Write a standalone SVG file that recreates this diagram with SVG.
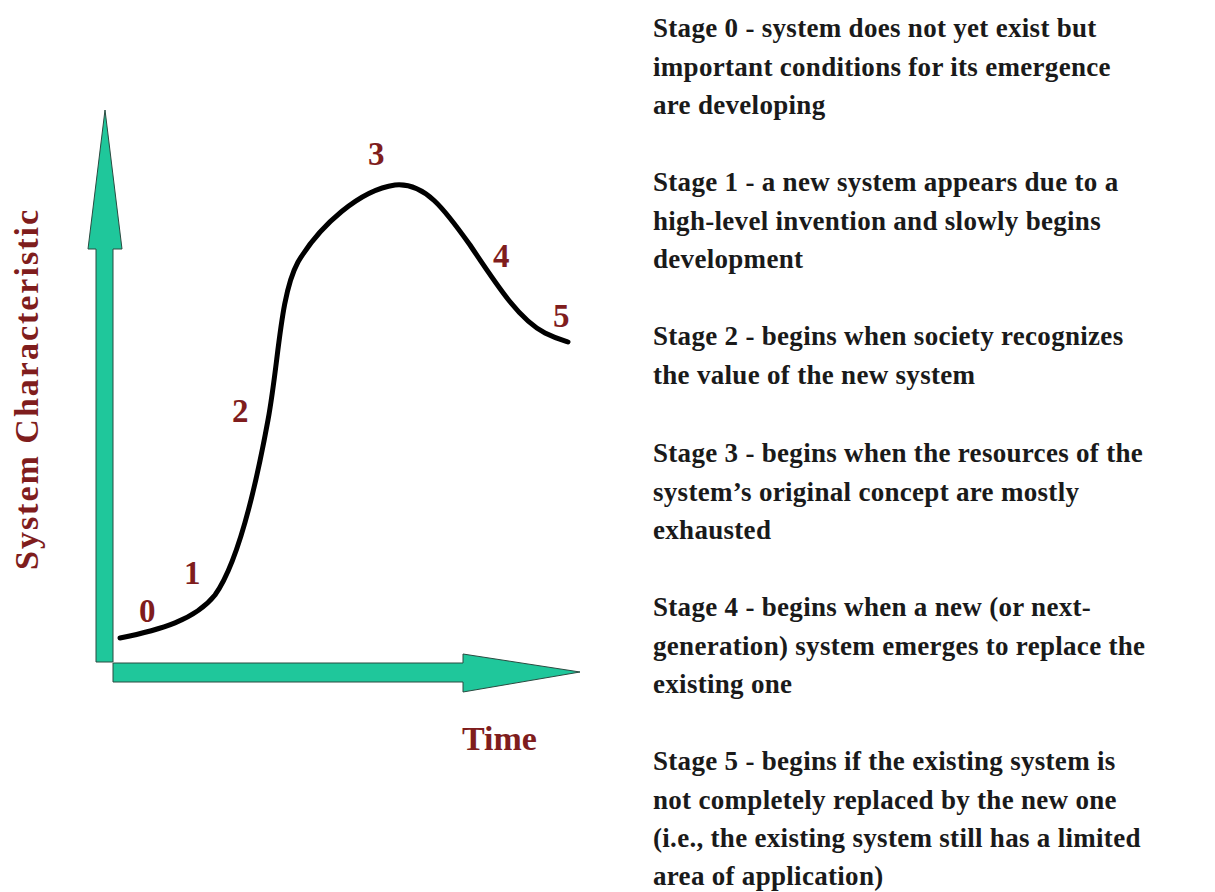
<svg xmlns="http://www.w3.org/2000/svg" width="1215" height="892" viewBox="0 0 1215 892">
<style>
.axis{fill:#1fc79b;stroke:#2a4a40;stroke-width:1}
.curve{fill:none;stroke:#000;stroke-width:5;stroke-linecap:round;stroke-linejoin:round}
.lbl{font-family:"Liberation Serif",serif;font-weight:bold;fill:#7f1d1d}
.num{font-size:33px}
.desc{font-family:"Liberation Serif",serif;font-weight:bold;font-size:27px;fill:#1a1a1a;letter-spacing:0.3px}
</style>
<rect width="1215" height="892" fill="#fff"/>
<g id="connectors">
<polygon id="y-axis" class="axis" points="96,662 96,249 88,249 105,110 122,249 113,249 113,662"/>
<polygon id="x-axis" class="axis" points="113,663 463,663 463,654 580,672 463,692 463,682 113,682"/>
<path id="curve" class="curve" d="M120,638 C160,630 195,620 215,595 C240,560 257,480 268,420 C279,360 280,295 298,262 C320,225 360,190 395,185 C425,182 445,210 470,245 C500,290 520,320 545,333 C555,338 562,340 568,342"/>
</g>
<g id="axis-labels">
<text class="lbl" font-size="34" transform="translate(38,570) rotate(-90)" textLength="360" lengthAdjust="spacing">System Characteristic</text>
<text class="lbl" font-size="34" x="462" y="750">Time</text>
</g>
<g id="stage-numbers">
<text class="lbl num" x="139" y="622">0</text>
<text class="lbl num" x="184" y="584">1</text>
<text class="lbl num" x="232" y="422">2</text>
<text class="lbl num" x="368" y="165">3</text>
<text class="lbl num" x="493" y="267">4</text>
<text class="lbl num" x="553" y="327">5</text>
</g>
<g id="stage0">
<text class="desc" x="653" y="37">Stage 0 - system does not yet exist but</text>
<text class="desc" x="653" y="75.5">important conditions for its emergence</text>
<text class="desc" x="653" y="114">are developing</text>
</g>
<g id="stage1">
<text class="desc" x="653" y="191">Stage 1 - a new system appears due to a</text>
<text class="desc" x="653" y="229.5">high-level invention and slowly begins</text>
<text class="desc" x="653" y="268">development</text>
</g>
<g id="stage2">
<text class="desc" x="653" y="345">Stage 2 - begins when society recognizes</text>
<text class="desc" x="653" y="383.5">the value of the new system</text>
</g>
<g id="stage3">
<text class="desc" x="653" y="462">Stage 3 - begins when the resources of the</text>
<text class="desc" x="653" y="500.5">system’s original concept are mostly</text>
<text class="desc" x="653" y="539">exhausted</text>
</g>
<g id="stage4">
<text class="desc" x="653" y="616">Stage 4 - begins when a new (or next-</text>
<text class="desc" x="653" y="654.5">generation) system emerges to replace the</text>
<text class="desc" x="653" y="693">existing one</text>
</g>
<g id="stage5">
<text class="desc" x="653" y="770">Stage 5 - begins if the existing system is</text>
<text class="desc" x="653" y="808.5">not completely replaced by the new one</text>
<text class="desc" x="653" y="847">(i.e., the existing system still has a limited</text>
<text class="desc" x="653" y="885">area of application)</text>
</g>
</svg>
